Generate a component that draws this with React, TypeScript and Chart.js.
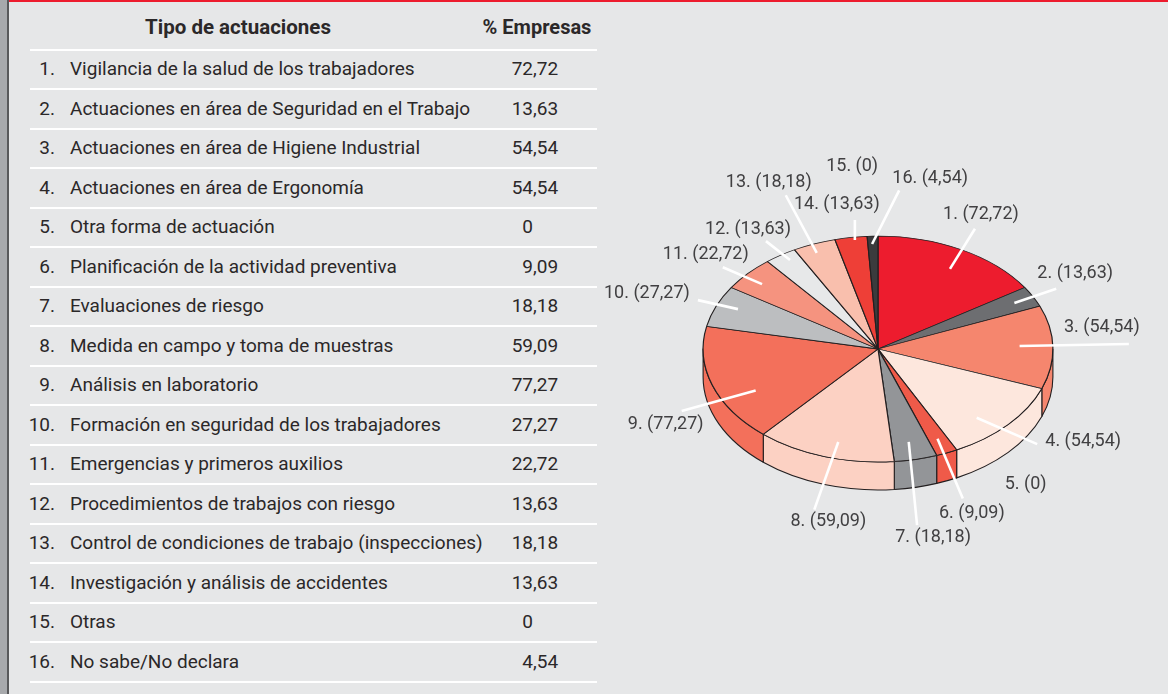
import React, { useEffect, useRef } from "react";
import { Chart, registerables } from "chart.js";

Chart.register(...registerables);

// ---------- data ----------
const HEADERS = ["Tipo de actuaciones", "% Empresas"];
const CATEGORIES = [
  "Vigilancia de la salud de los trabajadores",
  "Actuaciones en área de Seguridad en el Trabajo",
  "Actuaciones en área de Higiene Industrial",
  "Actuaciones en área de Ergonomía",
  "Otra forma de actuación",
  "Planificación de la actividad preventiva",
  "Evaluaciones de riesgo",
  "Medida en campo y toma de muestras",
  "Análisis en laboratorio",
  "Formación en seguridad de los trabajadores",
  "Emergencias y primeros auxilios",
  "Procedimientos de trabajos con riesgo",
  "Control de condiciones de trabajo (inspecciones)",
  "Investigación y análisis de accidentes",
  "Otras",
  "No sabe/No declara",
];
const VALUES = [72.72, 13.63, 54.54, 54.54, 0, 9.09, 18.18, 59.09, 77.27, 27.27, 22.72, 13.63, 18.18, 13.63, 0, 4.54];
const COLORS = [
  "#ed1c2e", "#6d6e71", "#f5866e", "#fde7dd", "#f8b9a8", "#ef5a49", "#939598", "#fcd1c3",
  "#f3705b", "#bcbec0", "#f5937f", "#e7e8e9", "#f9bfad", "#ee3f37", "#cccccc", "#3b3b3d",
];

// ---------- layout (not data) ----------
const W = 1168;
const H = 694;
const BG = "#e6e7e8";
const PIE_CX = 878;
const PIE_CY = 349;
const PIE_R = 175;
const SQUASH = 113 / 175;
const DEPTH = 28;
// [fIn (0 = no leader), dInDeg, fOut, dOutDeg, depthFactor, textDx, textDy]
const LABEL_LAYOUT: number[][] = [
  [0.82, 1.6, 1.2, -1, 0, 6, -14],
  [0.88, 0, 1.15, 0, 0, 19, -15],
  [0.81, -1, 1.435, -0.9, 0, -27, -16],
  [0.83, 5.3, 1.24, 0.9, 0, 46, -3],
  [0, 0, 1, 0, 1, 69, 7],
  [0.865, 0, 1.18, -1.1, 1, 9, 15],
  [0.84, 0.4, 1.33, 2.8, 1, 16, 12],
  [0.854, -2.4, 1.23, -0.6, 1, 14, 12],
  [0.79, -9, 1.25, -7.4, 0, -16, 13],
  [0.875, 1.5, 1.117, 0.5, 0, -51, -7],
  [0.877, -1, 1.145, -2.7, 0, -17, -13],
  [0.935, 1.3, 1.15, 0, 0, -18, -12],
  [0.92, -1, 1.46, 0.2, 0, -17, -13],
  [0.974, 1.1, 1.15, 2.3, 0, -18, -15],
  [0, 0, 1, 0, 0, -15, -70],
  [0.93, -0.3, 1.41, 6.7, 0, 31, -12],
];

const fmt = (v: number) => (v === 0 ? "0" : v.toFixed(2).replace(".", ","));

const pie3d = {
  id: "pie3d",
  beforeDatasetsDraw(chart: any) {
    const meta = chart.getDatasetMeta(0);
    const ctx: CanvasRenderingContext2D = chart.ctx;
    const a0el = meta.data[0];
    const cx = a0el.x, cy = a0el.y, R = a0el.outerRadius;
    ctx.save();
    ctx.lineWidth = 1.1;
    ctx.strokeStyle = "#231f20";
    ctx.lineJoin = "round";
    meta.data.forEach((arc: any, i: number) => {
      const a0 = arc.startAngle, a1 = arc.endAngle;
      if (a1 - a0 < 1e-6) return;
      for (const off of [-2 * Math.PI, 0, 2 * Math.PI]) {
        const s0 = Math.max(a0, off);
        const s1 = Math.min(a1, off + Math.PI);
        if (s1 - s0 <= 1e-6) continue;
        ctx.beginPath();
        ctx.ellipse(cx, cy, R, R * SQUASH, 0, s0, s1, false);
        ctx.lineTo(cx + R * Math.cos(s1), cy + R * SQUASH * Math.sin(s1) + DEPTH);
        ctx.ellipse(cx, cy + DEPTH, R, R * SQUASH, 0, s1, s0, true);
        ctx.closePath();
        ctx.fillStyle = COLORS[i];
        ctx.fill();
        ctx.stroke();
      }
    });
    ctx.restore();
    ctx.save();
    ctx.translate(cx, cy);
    ctx.scale(1, SQUASH);
    ctx.translate(-cx, -cy);
  },
  afterDatasetsDraw(chart: any) {
    const ctx: CanvasRenderingContext2D = chart.ctx;
    ctx.restore();
    const meta = chart.getDatasetMeta(0);
    const a0el = meta.data[0];
    const cx = a0el.x, cy = a0el.y, R = a0el.outerRadius;
    const E = (a: number, f: number) => [cx + R * f * Math.cos(a), cy + R * SQUASH * f * Math.sin(a)];
    const deg = Math.PI / 180;
    ctx.save();
    ctx.font = "18px Roboto";
    ctx.fillStyle = "#414042";
    ctx.textAlign = "center";
    ctx.textBaseline = "middle";
    meta.data.forEach((arc: any, i: number) => {
      const [fIn, dIn, fOut, dOut, dep, tdx, tdy] = LABEL_LAYOUT[i];
      const mid = (arc.startAngle + arc.endAngle) / 2;
      const out = E(mid + dOut * deg, fOut);
      out[1] += dep * DEPTH;
      if (fIn > 0) {
        const inn = E(mid + dIn * deg, fIn);
        ctx.beginPath();
        ctx.moveTo(inn[0], inn[1]);
        ctx.lineTo(out[0], out[1]);
        ctx.strokeStyle = "#ffffff";
        ctx.lineWidth = 2.6;
        ctx.stroke();
      }
      ctx.fillText(`${i + 1}. (${fmt(VALUES[i])})`, out[0] + tdx, out[1] + tdy);
    });
    ctx.restore();
  },
};

const TABLE_FONT = "Roboto, sans-serif";

export default function App() {
  const ref = useRef<HTMLCanvasElement>(null);
  useEffect(() => {
    const canvas = ref.current!;
    const side = 2 * PIE_R + 1;
    const chart = new Chart(canvas, {
      type: "pie",
      data: {
        labels: CATEGORIES,
        datasets: [
          {
            data: VALUES,
            backgroundColor: COLORS,
            borderColor: "#231f20",
            borderWidth: 1.2,
          },
        ],
      },
      options: {
        animation: false,
        responsive: false,
        devicePixelRatio: 1,
        events: [],
        layout: {
          padding: {
            left: PIE_CX - side / 2,
            right: W - PIE_CX - side / 2,
            top: PIE_CY - side / 2,
            bottom: H - PIE_CY - side / 2,
          },
        },
        plugins: { legend: { display: false }, tooltip: { enabled: false } },
      },
      plugins: [pie3d],
    });
    return () => chart.destroy();
  }, []);

  const rowH = 39.5;
  const cell = (top: number): React.CSSProperties => ({
    position: "absolute",
    top,
    height: 26,
    lineHeight: "26px",
    whiteSpace: "nowrap",
  });
  return (
    <div style={{ position: "absolute", left: 0, top: 0, width: W, height: H, background: BG, overflow: "hidden" }}>
      <div style={{ position: "absolute", left: 0, top: 0, width: 7, height: H, background: "#a7a9ac" }} />
      <div style={{ position: "absolute", left: 7, top: 0, width: 2, height: H, background: "#58595b" }} />
      <div style={{ position: "absolute", left: 9, top: 0, width: W - 9, height: 2, background: "#ed1c2e" }} />
      <div style={{ fontFamily: TABLE_FONT, color: "#2b2829", fontSize: 19 }}>
        <div style={{ ...cell(14), left: 128, width: 220, textAlign: "center", fontWeight: "bold", fontSize: 20.5 }}>{HEADERS[0]}</div>
        <div style={{ ...cell(14), left: 467, width: 140, textAlign: "center", fontWeight: "bold", fontSize: 20 }}>{HEADERS[1]}</div>
        {Array.from({ length: CATEGORIES.length + 1 }).map((_, k) => (
          <div key={"l" + k} style={{ position: "absolute", left: 30, width: 567, top: 48.5 + rowH * k, height: 2, background: "#ffffff" }} />
        ))}
        {CATEGORIES.map((c, k) => {
          const s = fmt(VALUES[k]);
          const [ip, dp] = s.split(",");
          const top = 56 + rowH * k;
          return (
            <React.Fragment key={k}>
              <div style={{ ...cell(top), left: 0, width: 55, textAlign: "right" }}>{k + 1}.</div>
              <div style={{ ...cell(top), left: 70 }}>{c}</div>
              <div style={{ ...cell(top), left: 473, width: 60, textAlign: "right" }}>{ip}</div>
              {dp !== undefined && <div style={{ ...cell(top), left: 533 }}>{"," + dp}</div>}
            </React.Fragment>
          );
        })}
      </div>
      <canvas ref={ref} width={W} height={H} style={{ position: "absolute", left: 0, top: 0, width: W, height: H, pointerEvents: "none" }} />
    </div>
  );
}
